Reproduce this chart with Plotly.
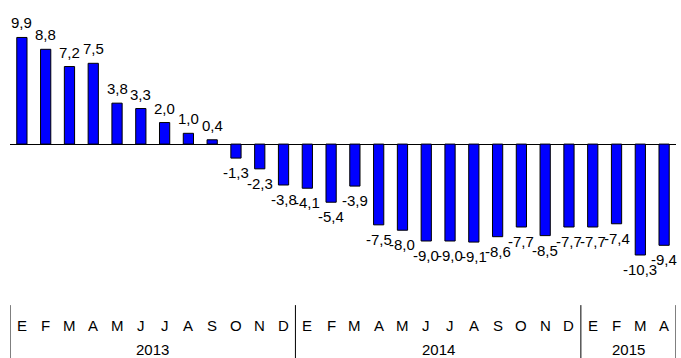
import plotly.graph_objects as go

months = ["E", "F", "M", "A", "M", "J", "J", "A", "S", "O", "N", "D",
          "E", "F", "M", "A", "M", "J", "J", "A", "S", "O", "N", "D",
          "E", "F", "M", "A"]
years = ["2013", "2014", "2015"]
year_counts = [12, 12, 4]
values = [9.9, 8.8, 7.2, 7.5, 3.8, 3.3, 2.0, 1.0, 0.4, -1.3, -2.3, -3.8,
          -4.1, -5.4, -3.9, -7.5, -8.0, -9.0, -9.0, -9.1, -8.6, -7.7, -8.5, -7.7,
          -7.7, -7.4, -10.3, -9.4]
labels = [f"{v:.1f}".replace(".", ",") for v in values]

FONT = "Liberation Sans, Arial, sans-serif"
FS = 15
x = list(range(len(values)))

fig = go.Figure(go.Bar(
    x=x, y=values,
    marker=dict(color="#0000FF", line=dict(color="#000000", width=1)),
    hoverinfo="skip",
))

ann = []
for i, (v, t) in enumerate(zip(values, labels)):
    if v >= 0:
        ann.append(dict(x=i, y=v, xref="x", yref="y", text=t, showarrow=False,
                        yanchor="bottom", yshift=4, font=dict(size=FS, color="black", family=FONT)))
    else:
        ann.append(dict(x=i, y=v, xref="x", yref="y", text=t, showarrow=False,
                        yanchor="top", yshift=-4, font=dict(size=FS, color="black", family=FONT)))

for i, m in enumerate(months):
    ann.append(dict(x=i, y=0, xref="x", yref="paper", text=m, showarrow=False,
                    yanchor="middle", yshift=-35, font=dict(size=FS, color="black", family=FONT)))

shapes = []
start = 0
bounds = [-0.5]
for yr, n in zip(years, year_counts):
    center = start + (n - 1) / 2
    ann.append(dict(x=center, y=0, xref="x", yref="paper", text=yr, showarrow=False,
                    yanchor="middle", yshift=-59, borderpad=0,
                    font=dict(size=FS, color="black", family=FONT)))
    start += n
    bounds.append(start - 0.5)

for b in bounds:
    shapes.append(dict(type="line", xref="x", yref="paper", x0=b, x1=b, y0=-0.054, y1=-0.26,
                       line=dict(color="black", width=1)))

fig.update_layout(
    width=681, height=358,
    margin=dict(l=10, r=5, t=10, b=68),
    paper_bgcolor="white", plot_bgcolor="white",
    showlegend=False,
    bargap=0.57,
    xaxis=dict(range=[-0.5, len(values) - 0.5], showticklabels=False, showgrid=False,
               zeroline=False, showline=False, ticks=""),
    yaxis=dict(range=[-13.55, 12.45], showticklabels=False, showgrid=False,
               zeroline=True, zerolinecolor="black", zerolinewidth=1, showline=False, ticks=""),
    annotations=ann,
    shapes=shapes,
    font=dict(family=FONT),
)

fig.write_html("out.html", config={"displayModeBar": False},
               post_script="document.body.style.margin='0';document.body.style.overflow='hidden';")
